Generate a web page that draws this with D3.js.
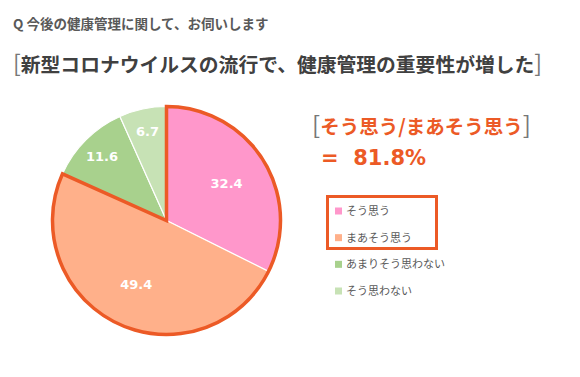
<!DOCTYPE html>
<html>
<head>
<meta charset="utf-8">
<script src="https://cdn.jsdelivr.net/npm/d3@7"></script>
<style>
  body { margin: 0; background: #fff; }
  text { font-family: "Noto Sans CJK JP", "Noto Sans", sans-serif; }
  text.num { font-family: Verdana, "DejaVu Sans", sans-serif; }
</style>
</head>
<body>
<div id="chart"></div>
<script>
const categories = ['そう思う', 'まあそう思う', 'あまりそう思わない', 'そう思わない']
const values = [32.4, 49.4, 11.6, 6.7]
const colors = ['#ff97cb', '#ffb08a', '#a8d18d', '#c7e2b5']
const highlighted = [0, 1]
const total = '81.8%'

const width = 580
const height = 377
const orange = '#ec5a26'
const cx = 166.5
const cy = 220.5
const r = 114

const svg = d3.select('#chart').append('svg')
  .attr('width', width)
  .attr('height', height)

svg.append('text')
  .attr('x', 13)
  .attr('y', 29)
  .attr('fill', '#595959')
  .attr('font-size', 13.5)
  .attr('font-weight', 'bold')
  .text('Q 今後の健康管理に関して、お伺いします')

const title = svg.append('text')
  .attr('x', 13)
  .attr('y', 72)
  .attr('fill', '#404040')
  .attr('font-size', 19.8)
  .attr('font-weight', 'bold')
title.append('tspan').attr('font-weight', 'normal').attr('fill', '#777').attr('font-size', 23).text('[')
title.append('tspan').text('新型コロナウイルスの流行で、健康管理の重要性が増した')
title.append('tspan').attr('font-weight', 'normal').attr('fill', '#777').attr('font-size', 23).text(']')

const sub = svg.append('text')
  .attr('x', 312)
  .attr('y', 134)
  .attr('fill', orange)
  .attr('font-size', 19.5)
  .attr('font-weight', 'bold')
sub.append('tspan').attr('font-weight', 'normal').attr('fill', '#777').attr('font-size', 24).text('[')
sub.append('tspan').text(categories[0] + '/' + categories[1])
sub.append('tspan').attr('font-weight', 'normal').attr('fill', '#777').attr('font-size', 24).text(']')

svg.append('text')
  .attr('class', 'num')
  .attr('x', 321)
  .attr('y', 165)
  .attr('fill', orange)
  .attr('font-size', 21)
  .attr('font-weight', 'bold')
  .attr('xml:space', 'preserve')
  .text('=  ' + total)

const pie = d3.pie().sort(null).value(d => d)
const arcs = pie(values)
const arc = d3.arc().innerRadius(0).outerRadius(r)

const g = svg.append('g').attr('transform', `translate(${cx},${cy})`)

g.selectAll('path.slice')
  .data(arcs).enter()
  .append('path')
  .attr('class', 'slice')
  .attr('d', arc)
  .attr('fill', (d, i) => colors[i])
  .attr('stroke', '#fff')
  .attr('stroke-width', 1.2)

// orange outline round the combined "agree" slices
const hl = highlighted.map(i => arcs[i])
g.append('path')
  .attr('d', arc({ startAngle: hl[0].startAngle, endAngle: hl[hl.length - 1].endAngle }))
  .attr('fill', 'none')
  .attr('stroke', orange)
  .attr('stroke-width', 3.5)
  .attr('stroke-linejoin', 'miter')

const labelArc = d => {
  const k = d.data > 20 ? 0.62 : 0.8
  return d3.arc().innerRadius(r * k).outerRadius(r * k).centroid(d)
}

g.selectAll('text.lbl')
  .data(arcs).enter()
  .append('text')
  .attr('class', 'lbl num')
  .attr('transform', d => `translate(${labelArc(d)})`)
  .attr('text-anchor', 'middle')
  .attr('dy', '0.35em')
  .attr('fill', '#fff')
  .attr('font-size', 13)
  .attr('font-weight', 'bold')
  .text(d => d.data.toFixed(1))

// legend
const y = d3.scalePoint()
  .domain(categories)
  .range([211, 291])

const legend = svg.append('g')
legend.selectAll('rect.key')
  .data(categories).enter()
  .append('rect')
  .attr('class', 'key')
  .attr('x', 335)
  .attr('y', d => y(d) - 3.5)
  .attr('width', 7)
  .attr('height', 7)
  .attr('fill', (d, i) => colors[i])

legend.selectAll('text')
  .data(categories).enter()
  .append('text')
  .attr('x', 346)
  .attr('y', d => y(d))
  .attr('dy', '0.35em')
  .attr('fill', '#595959')
  .attr('font-size', 11)
  .text(d => d)

legend.append('rect')
  .attr('x', 327.5)
  .attr('y', 196.5)
  .attr('width', 109)
  .attr('height', 52)
  .attr('fill', 'none')
  .attr('stroke', orange)
  .attr('stroke-width', 3)
</script>
</body>
</html>
